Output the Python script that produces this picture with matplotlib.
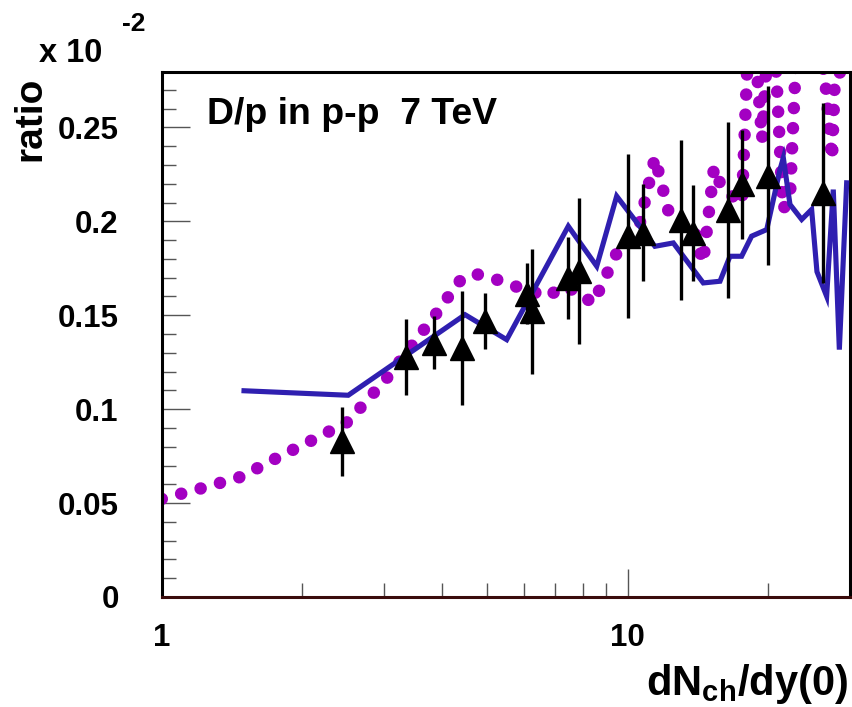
import matplotlib
matplotlib.use("Agg")
import matplotlib.pyplot as plt
from matplotlib.ticker import NullFormatter, FixedLocator

plt.rcParams["font.family"] = ["Liberation Sans", "DejaVu Sans"]
plt.rcParams["font.weight"] = "bold"
plt.rcParams["mathtext.fontset"] = "custom"
plt.rcParams["mathtext.rm"] = "Liberation Sans:bold"
plt.rcParams["mathtext.bf"] = "Liberation Sans:bold"
plt.rcParams["mathtext.it"] = "Liberation Sans:bold"

# measured D/p ratio (units of 10^-2) vs charged multiplicity
data_x = [2.437, 3.339, 3.840, 4.418, 4.933, 6.087, 6.242, 7.43, 7.87,
          10.0, 10.80, 12.99, 13.79, 16.44, 17.62, 19.97, 26.21]
data_y = [0.0829, 0.1279, 0.1354, 0.1325, 0.1470, 0.1615, 0.1521, 0.1699, 0.1737,
          0.1923, 0.1940, 0.2007, 0.1938, 0.2061, 0.2197, 0.2243, 0.2152]
data_err = [0.0185, 0.0202, 0.0140, 0.0302, 0.0149, 0.0164, 0.0332, 0.0219, 0.0388,
            0.0437, 0.0260, 0.0424, 0.0258, 0.0469, 0.0289, 0.0477, 0.0480]

# model curve (solid blue)
model_x = [1.502, 2.514, 4.477, 5.500, 7.457, 8.582, 9.471, 11.44, 12.53, 14.53,
           15.78, 16.58, 17.56, 18.45, 19.88, 21.23, 21.58, 22.30, 23.63, 24.82,
           25.48, 26.73, 27.62, 28.46, 29.51]
model_y = [0.1098, 0.1074, 0.1503, 0.1370, 0.1974, 0.1761, 0.2134, 0.1867, 0.1885, 0.1672,
           0.1681, 0.1814, 0.1814, 0.1921, 0.1956, 0.2276, 0.2338, 0.2090, 0.2010, 0.2063,
           0.1732, 0.1601, 0.2169, 0.1317, 0.2205]

# second model curve (dotted purple)
alt_x = [1.000, 1.226, 1.480, 1.768, 2.112, 2.510, 3.060, 3.898, 4.345, 4.680,
         5.167, 5.674, 6.745, 7.228, 7.823, 8.425, 9.438, 10.63, 11.44, 12.33,
         13.81, 14.52, 15.32, 15.94, 17.59, 18.03, 18.95, 19.43, 19.81, 20.81,
         21.54, 22.30, 22.97, 24.61, 26.51, 27.45, 27.85, 30.29]
alt_y = [0.0522, 0.0581, 0.0640, 0.0741, 0.0837, 0.0933, 0.1173, 0.1514, 0.1679, 0.1722,
         0.1695, 0.1658, 0.1599, 0.1652, 0.1626, 0.1562, 0.1823, 0.1994, 0.2340, 0.2020,
         0.1972, 0.1780, 0.2287, 0.2175, 0.2095, 0.2783, 0.2793, 0.2436, 0.2799, 0.2820,
         0.2063, 0.2127, 0.2862, 0.3182, 0.2767, 0.2329, 0.2777, 0.2830]

y_major = [0, 0.05, 0.1, 0.15, 0.2, 0.25]
y_major_labels = ["0", "0.05", "0.1", "0.15", "0.2", "0.25"]
x_major = [1, 10]
x_major_labels = ["1", "10"]

W, H = 852, 707
fig = plt.figure(figsize=(W / 100, H / 100), dpi=100)
left, right, top, bottom = 161.7, 850.0, 72.0, 597.0
ax = fig.add_axes([left / W, 1 - bottom / H, (right - left) / W, (bottom - top) / H])

purple = "#a300c2"
blue = "#2f1fb0"

ax.plot(alt_x, alt_y, color=purple, lw=9.0, linestyle=(0, (0.01, 1.6)),
        dash_capstyle="round", zorder=2)
ax.plot(model_x, model_y, color=blue, lw=3.7, solid_joinstyle="miter", zorder=3)
ax.errorbar(data_x, data_y, yerr=data_err, fmt="^", color="black", ms=17,
            elinewidth=2.4, capsize=0, zorder=4)

ax.set_xscale("log")
ax.set_xlim(1, 30)
ax.set_ylim(0, 0.2795)

ax.xaxis.set_major_locator(FixedLocator(x_major))
ax.set_xticklabels(x_major_labels)
ax.xaxis.set_minor_locator(FixedLocator([2, 3, 4, 5, 6, 7, 8, 9, 20]))
ax.xaxis.set_minor_formatter(NullFormatter())
ax.yaxis.set_major_locator(FixedLocator(y_major))
ax.set_yticklabels(y_major_labels)
ax.yaxis.set_minor_locator(FixedLocator([i * 0.01 for i in range(28)]))

ax.tick_params(axis="both", which="both", direction="in", color="#555555",
               width=1.0, top=False, right=False)
ax.tick_params(axis="both", which="major", length=20)
ax.tick_params(axis="both", which="minor", length=10)
ax.tick_params(axis="y", which="major", labelsize=22.5, pad=31)
ax.tick_params(axis="x", which="major", labelsize=22.5, pad=19)
for lbl in ax.get_xticklabels() + ax.get_yticklabels():
    lbl.set_fontweight("bold")

for side in ["left", "top", "right"]:
    ax.spines[side].set_linewidth(2.2)
    ax.spines[side].set_color("black")
ax.spines["bottom"].set_linewidth(2.2)
ax.spines["bottom"].set_color("#3a0b0b")

ax.text(207 / W, 1 - 124 / H, "D/p in p-p  7 TeV", transform=fig.transFigure,
        fontsize=26.9, fontweight="bold", ha="left", va="baseline")

fig.text(30 / W, 1 - 77 / H, "ratio", rotation=90, fontsize=28,
         fontweight="bold", ha="center", va="top")
fig.text(39 / W, 1 - 62 / H, "x 10", fontsize=23.5, fontweight="bold",
         ha="left", va="baseline")
fig.text(122 / W, 1 - 31 / H, "-2", fontsize=19, fontweight="bold",
         ha="left", va="baseline")
fig.text(848 / W, 1 - 695 / H, r"dN$_{\mathbf{ch}}$/dy(0)", fontsize=30,
         fontweight="bold", ha="right", va="baseline")

fig.savefig("out.png", dpi=100)
